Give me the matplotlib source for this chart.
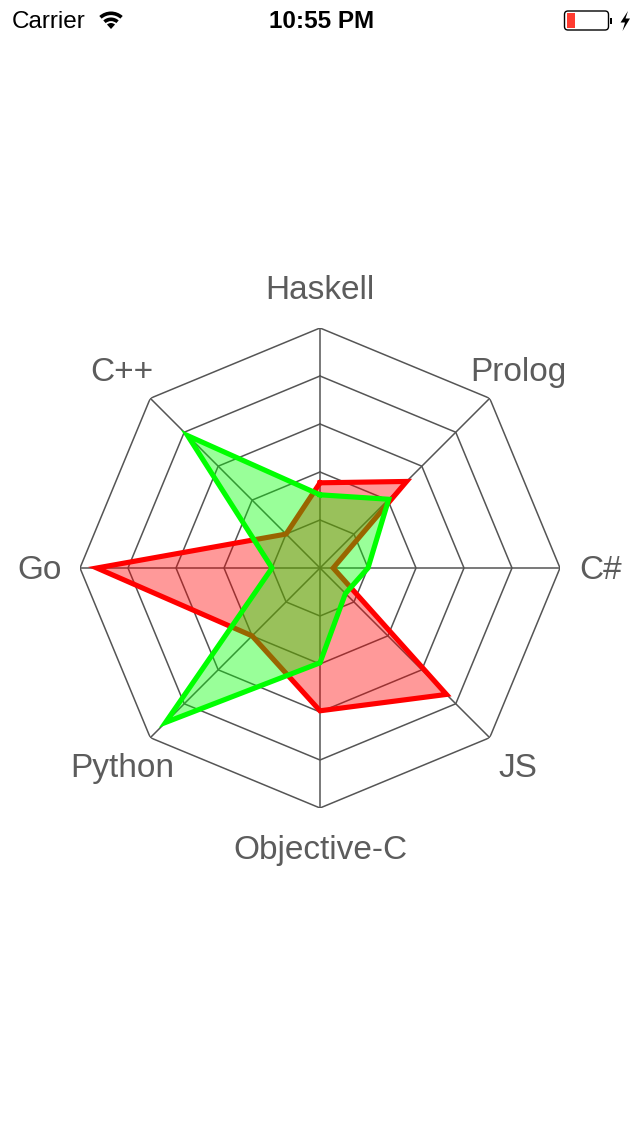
import numpy as np
import matplotlib
matplotlib.use("Agg")
import matplotlib.pyplot as plt
from matplotlib.patches import Wedge, FancyBboxPatch, Rectangle, Polygon

plt.rcParams['font.family'] = ['Liberation Sans', 'DejaVu Sans']

# languages, clockwise from the top
labels = ["Haskell", "Prolog", "C#", "JS", "Objective-C", "Python", "Go", "C++"]
red_vals = [35.5, 51, 5.5, 74.5, 59.5, 40, 93, 20]
green_vals = [30.5, 40.5, 20, 15, 39.5, 91, 20, 78]
levels = [20, 40, 60, 80, 100]

grid_col = "#555555"
text_col = "#5c5c5c"

fig = plt.figure(figsize=(6.4, 11.36), dpi=100)
fig.patch.set_facecolor("white")

# radar axes: centre at (320, 568) px, radius 240 px
ax = fig.add_axes([80 / 640, 328 / 1136, 480 / 640, 480 / 1136], projection="polar")
ax.set_theta_zero_location("N")
ax.set_theta_direction(-1)
ax.set_ylim(0, 100)
ax.grid(False)
ax.set_xticks([])
ax.set_yticks([])
ax.spines["polar"].set_visible(False)
ax.patch.set_alpha(0)

n = len(labels)
angles = np.linspace(0, 2 * np.pi, n, endpoint=False)
closed = np.concatenate([angles, angles[:1]])

# web
for lv in levels:
    ax.plot(closed, [lv] * (n + 1), color=grid_col, lw=1.1, zorder=1)
for a in angles:
    ax.plot([a, a], [0, 100], color=grid_col, lw=1.1, zorder=1)

# series
r = red_vals + red_vals[:1]
g = green_vals + green_vals[:1]
ax.fill(closed, r, color="#ff0000", alpha=0.4, lw=0, zorder=2)
ax.plot(closed, r, color="#ff0000", lw=3.7, solid_joinstyle="miter", zorder=3)
ax.fill(closed, g, color="#00ff00", alpha=0.4, lw=0, zorder=4)
ax.plot(closed, g, color="#00ff00", lw=3.7, solid_joinstyle="miter", zorder=5)

for a, lab in zip(angles, labels):
    ax.annotate(lab, xy=(a, 116.7), xytext=(0, -2), textcoords="offset points",
                ha="center", va="center", fontsize=24, color=text_col,
                annotation_clip=False)

# status bar
sb = fig.add_axes([0, 1 - 40 / 1136, 1, 40 / 1136])
sb.set_xlim(0, 640)
sb.set_ylim(40, 0)
sb.axis("off")

sb.text(12, 21.5, "Carrier", ha="left", va="center", fontsize=17.5, color="black")
sb.text(322, 21.5, "10:55 PM", ha="center", va="center", fontsize=17.5,
        fontweight="bold", color="black")

# wifi fan
for rad, w in [(17.5, 3.6), (11.5, 3.6)]:
    sb.add_patch(Wedge((111, 29), rad, 228, 312, width=w, color="black", lw=0))
sb.add_patch(Wedge((111, 29), 6, 228, 312, color="black", lw=0))

# battery
sb.add_patch(FancyBboxPatch((564.5, 11), 44, 19, boxstyle="round,pad=0,rounding_size=3.5",
                            fill=False, ec="black", lw=1.0))
sb.add_patch(Rectangle((566.5, 13), 8.5, 15, color="#ff3b30", lw=0))
sb.add_patch(Rectangle((610, 17.5), 2.2, 6, color="black", lw=0))
sb.add_patch(Polygon([(628, 11), (620.5, 22.5), (625, 22.5), (622.5, 31),
                      (630, 18.5), (625.5, 18.5)], closed=True, color="black", lw=0))

fig.savefig("out.png", dpi=100, facecolor="white")
